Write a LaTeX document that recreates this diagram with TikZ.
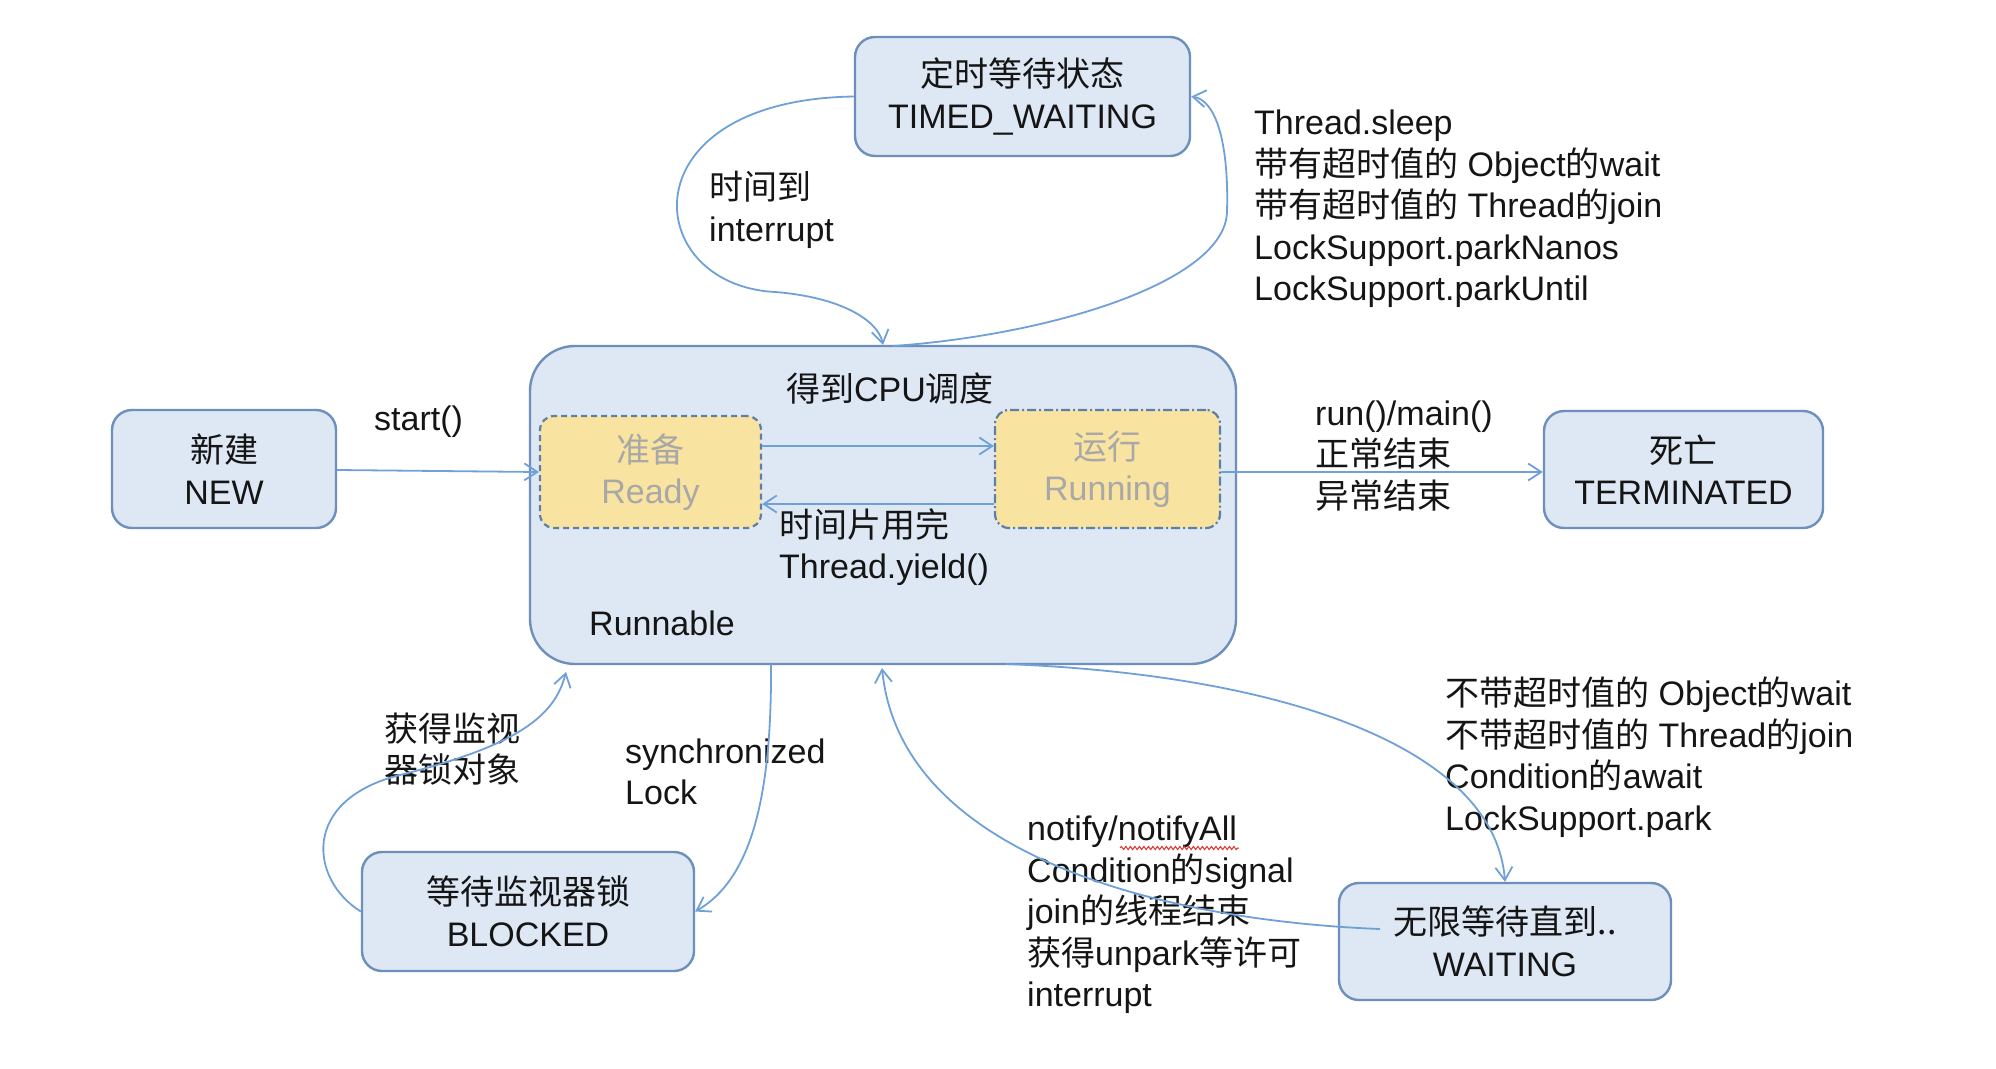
\documentclass[tikz,border=0pt]{standalone}
\usepackage{fontspec}
\setmainfont{Liberation Sans}
\newfontfamily\cjk{Noto Sans CJK SC}
\usetikzlibrary{arrows.meta,decorations.pathmorphing}
\newcommand\zh[1]{{\cjk #1}}
\definecolor{boxfill}{HTML}{DEE8F4}
\definecolor{boxline}{HTML}{6E8FBC}
\definecolor{arrowc}{HTML}{70A0D8}
\definecolor{subfill}{HTML}{F9E3A0}
\definecolor{subline}{HTML}{5E7FA8}
\definecolor{subtext}{HTML}{A8A8A8}
\definecolor{txt}{HTML}{151515}
\begin{document}
\begin{tikzpicture}[x=1pt,y=-1pt,
  font=\fontsize{34}{41.5}\selectfont, text=txt,
  stbox/.style={draw=boxline, fill=boxfill, line width=2.4pt, rounded corners=20pt, align=center, inner sep=0pt},
  subbox/.style={draw=subline, fill=subfill, line width=2.2pt, rounded corners=14pt, align=center, text=subtext, inner sep=0pt},
  lbl/.style={align=left, inner sep=0pt, anchor=west},
  conn/.style={draw=arrowc, line width=1.8pt, -{Straight Barb[length=13pt,width=17pt,line width=1.8pt]}},
]
\fill[white] (0,0) rectangle (1996,1068);
\useasboundingbox (0,0) rectangle (1996,1068);

% state boxes
\node[stbox, minimum width=335pt, minimum height=119pt] (tw) at (1022.5,96.5) {\zh{定时等待状态}\\TIMED\_WAITING};
\node[stbox, rounded corners=45pt, minimum width=706pt, minimum height=318pt] (run) at (883,505) {};
\node[stbox, minimum width=224pt, minimum height=118pt] (new) at (224,469) {\zh{新建}\\NEW};
\node[subbox, dash pattern=on 6pt off 4pt, minimum width=221pt, minimum height=112pt] (ready) at (650.5,472) {\zh{准备}\\Ready};
\node[subbox, dash pattern=on 9pt off 3pt on 2pt off 3pt, minimum width=225pt, minimum height=118pt] (running) at (1107.5,469) {\zh{运行}\\Running};
\node[stbox, minimum width=279pt, minimum height=117pt] (term) at (1683.5,469.5) {\zh{死亡}\\TERMINATED};
\node[stbox, minimum width=332pt, minimum height=119pt] (blocked) at (528,911.5) {\zh{等待监视器锁}\\BLOCKED};
\node[stbox, minimum width=332pt, minimum height=117pt] (waiting) at (1505,941.5) {\zh{无限等待直到..}\\WAITING};

% labels
\node[lbl] (l1) at (709,210) {\zh{时间到}\\interrupt};
\node[lbl] (l2) at (1254,209) {Thread.sleep\\\zh{带有超时值的} Object\zh{的}wait\\\zh{带有超时值的} Thread\zh{的}join\\LockSupport.parkNanos\\LockSupport.parkUntil};
\node[inner sep=0pt] (l3) at (890,389) {\zh{得到}CPU\zh{调度}};
\node[lbl] (l4) at (374,422) {start()};
\node[lbl] (l5) at (779,547) {\zh{时间片用完}\\Thread.yield()};
\node[lbl] (l6) at (589,623) {Runnable};
\node[lbl] (l7) at (1315,456) {run()/main()\\\zh{正常结束}\\\zh{异常结束}};
\node[lbl] (l8) at (384,749) {\zh{获得监视}\\\zh{器锁对象}};
\node[lbl] (l9) at (625,772) {synchronized\\Lock};
\node[lbl] (l10) at (1445,757) {\zh{不带超时值的} Object\zh{的}wait\\\zh{不带超时值的} Thread\zh{的}join\\Condition\zh{的}await\\LockSupport.park};
\node[lbl] (l11) at (1027,915) {notify/notifyAll\\Condition\zh{的}signal\\join\zh{的线程结束}\\\zh{获得}unpark\zh{等许可}\\interrupt};

% spell-check underline
\draw[color={rgb,255:red,225;green,50;blue,50}, line width=1pt, decorate, decoration={snake, amplitude=1.6pt, segment length=4.5pt}] (1120,848) -- (1239,848);

% free ends
\coordinate (rtA) at (883,345);
\coordinate (rtB) at (893,346);
\coordinate (rbS) at (771,664);
\coordinate (rbL) at (566,672);
\coordinate (rbW) at (1006,664);
\coordinate (rbN) at (882,668);
\coordinate (wS) at (1380,929);

% connectors
\draw[conn] (new.east |- 0,470) -- (ready.west |- 0,472);
\draw[conn] (ready.east |- 0,446) -- (running.west |- 0,446);
\draw[conn] (running.west |- 0,504) -- (ready.east |- 0,504);
\draw[conn] (running.east |- 0,472) -- (term.west |- 0,472);
\draw[conn] (tw.west) .. controls (625,100) and (640,285) .. (775,292) .. controls (840,297) and (878,320) .. (rtA);
\draw[conn] (rtB) .. controls (1050,335) and (1225,282) .. (1227,212) .. controls (1229,140) and (1215,100) .. (tw.east);
\draw[conn] (rbS) .. controls (772,800) and (750,880) .. (blocked.east);
\draw[conn] (blocked.west) .. controls (310,880) and (300,800) .. (400,775) .. controls (520,745) and (555,715) .. (rbL);
\draw[conn] (rbW) .. controls (1290,675) and (1495,750) .. (waiting.north);
\draw[conn] (wS) .. controls (1150,920) and (900,850) .. (rbN);
\end{tikzpicture}
\end{document}
